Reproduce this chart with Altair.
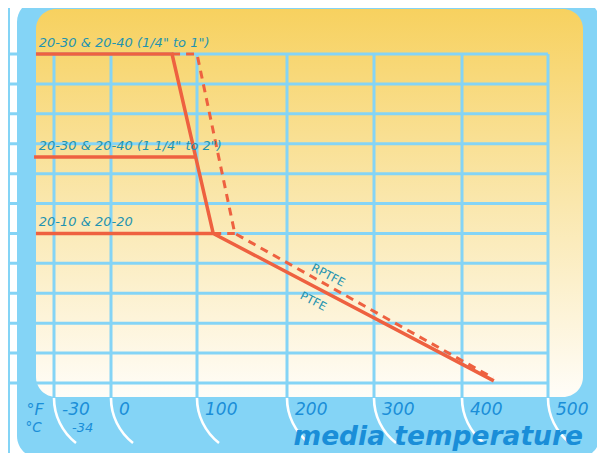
import altair as alt
import pandas as pd

# ---------------- data ----------------
ticks_f = [-30, 0, 100, 200, 300, 400, 500]
tick_labels = ["-30", "0", "100", "200", "300", "400", "500"]
grid_levels = list(range(12))          # horizontal grid levels (relative pressure)

# solid curves (PTFE seats): media temperature in °F, relative pressure level
s1_f = [-39.5, 71, 118]
s1_p = [11, 11, 5]
s2_f = [-40.5, 98]
s2_p = [7.56, 7.56]
s3_f = [-39.5, 118, 437]
s3_p = [5, 5, 0.07]
# dashed curves (RPTFE seats)
r1_f = [71, 100, 142, 436]
r1_p = [11, 11, 5, 0.17]
r2_f = [118, 142]
r2_p = [5, 5]

series_labels = ['20-30 & 20-40 (1/4" to 1")', '20-30 & 20-40 (1 1/4" to 2")', "20-10 & 20-20"]
series_label_f = [-38, -38, -38]
series_label_p = [11, 7.56, 5]

seat_labels = ["RPTFE", "PTFE"]
seat_label_f = [247, 230]
seat_label_p = [3.58, 2.71]

# ---------------- styles ----------------
BLUE = "#84d4f6"
LINE = "#ee6140"
TEAL = "#1f93b0"
AXBLUE = "#1a8ed8"
FONT = "DejaVu Sans"

xs = alt.Scale(domain=ticks_f, range=[46, 103, 189, 279, 366, 454, 540], nice=False, zero=False)
ys = alt.Scale(domain=[0, 11], range=[375, 46], nice=False, zero=False)
X = lambda f: alt.X(f, scale=xs, axis=None)
Y = lambda f: alt.Y(f, scale=ys, axis=None)

one = pd.DataFrame({"a": [0]})

bg = alt.Chart(one).mark_rect(fill=BLUE, cornerRadius=22).encode(
    x=alt.value(9), x2=alt.value(592), y=alt.value(-8), y2=alt.value(450)
)
left_rule = alt.Chart(one).mark_rule(color=BLUE, strokeWidth=2).encode(
    x=alt.value(1), y=alt.value(0), y2=alt.value(460)
)
panel = alt.Chart(one).mark_rect(
    cornerRadius=20,
    fill=alt.Gradient(
        gradient="linear",
        stops=[alt.GradientStop(color="#f7d15f", offset=0),
               alt.GradientStop(color="#fae7ad", offset=0.5),
               alt.GradientStop(color="#fffdf8", offset=1)],
        x1=0, x2=0, y1=0, y2=1,
    ),
).encode(x=alt.value(28), x2=alt.value(575), y=alt.value(1), y2=alt.value(389))

hgrid_df = pd.DataFrame({"p": grid_levels, "f0": [-60] * len(grid_levels), "f1": [500] * len(grid_levels)})
hgrid = alt.Chart(hgrid_df).mark_rule(color=BLUE, strokeWidth=3).encode(
    x=X("f0:Q"), x2="f1:Q", y=Y("p:Q"),
)
vgrid_df = pd.DataFrame({"f": ticks_f, "p0": [11] * len(ticks_f), "p1": [-0.47] * len(ticks_f)})
vgrid = alt.Chart(vgrid_df).mark_rule(color=BLUE, strokeWidth=3).encode(
    x=X("f:Q"), y=Y("p0:Q"), y2="p1:Q",
)

tick_df = pd.DataFrame({"f": ticks_f, "label": tick_labels})
# white hook under each tick: custom symbol path (unit coords scaled by sqrt(size)/2 = 25px)
HOOK = "M0,0 A2.28,2.28 0 0 0 0.88,1.8"
hooks = alt.Chart(tick_df).mark_point(
    shape=HOOK, size=2500, filled=False, stroke="white", strokeWidth=2.6, opacity=1
).encode(x=X("f:Q"), y=alt.value(390))

tick_text = alt.Chart(tick_df).mark_text(
    font=FONT, fontSize=17, fontStyle="italic", color=AXBLUE, align="left", dx=8, baseline="alphabetic"
).encode(x=X("f:Q"), y=alt.value(407), text="label:N")

unit_f = alt.Chart(pd.DataFrame({"f": [-44.5], "t": ["°F"]})).mark_text(
    font=FONT, fontSize=16, fontStyle="italic", color=AXBLUE, align="left", baseline="alphabetic"
).encode(x=X("f:Q"), y=alt.value(407), text="t:N")
unit_c = alt.Chart(pd.DataFrame({"f": [-45], "t": ["°C"]})).mark_text(
    font=FONT, fontSize=13.5, fontStyle="italic", color=AXBLUE, align="left", baseline="alphabetic"
).encode(x=X("f:Q"), y=alt.value(424), text="t:N")
unit_34 = alt.Chart(pd.DataFrame({"f": [-30], "t": ["-34"]})).mark_text(
    font=FONT, fontSize=13, fontStyle="italic", color=AXBLUE, align="left", baseline="alphabetic", dx=18
).encode(x=X("f:Q"), y=alt.value(424), text="t:N")

title = alt.Chart(one).mark_text(
    text="media temperature", font=FONT, fontSize=26.5, fontStyle="italic", fontWeight="bold",
    color=AXBLUE, align="right", baseline="alphabetic"
).encode(x=alt.value(575), y=alt.value(437))

def mk(name, fs, ps):
    return pd.DataFrame({"series": name, "i": range(len(fs)), "f": fs, "p": ps})

solid_df = pd.concat([mk("s1", s1_f, s1_p), mk("s2", s2_f, s2_p), mk("s3", s3_f, s3_p)])
dash_df = pd.concat([mk("r1", r1_f, r1_p), mk("r2", r2_f, r2_p)])

dashed = alt.Chart(dash_df).mark_line(color=LINE, strokeWidth=3, strokeDash=[8, 6], strokeJoin="miter").encode(
    x=X("f:Q"), y=Y("p:Q"), detail="series:N", order="i:Q",
)
solid = alt.Chart(solid_df).mark_line(color=LINE, strokeWidth=3.5, strokeJoin="miter").encode(
    x=X("f:Q"), y=Y("p:Q"), detail="series:N", order="i:Q",
)

lab_df = pd.DataFrame({"t": series_labels, "f": series_label_f, "p": series_label_p})
labels = alt.Chart(lab_df).mark_text(
    font=FONT, fontSize=13, fontStyle="italic", color=TEAL, align="left", baseline="alphabetic", dy=-7
).encode(x=X("f:Q"), y=Y("p:Q"), text="t:N")

seat_df = pd.DataFrame({"t": seat_labels, "f": seat_label_f, "p": seat_label_p})
seats = alt.Chart(seat_df).mark_text(
    font=FONT, fontSize=11.5, color=TEAL, align="center", baseline="middle", angle=27.5
).encode(x=X("f:Q"), y=Y("p:Q"), text="t:N")

chart = alt.layer(
    bg, left_rule, panel, hgrid, vgrid, hooks, dashed, solid, labels, seats,
    tick_text, unit_f, unit_c, unit_34, title
).properties(
    width=589, height=445, padding=0, background="white",
    autosize=alt.AutoSizeParams(type="none"),
).configure_view(stroke=None)

chart.save("out.html", embed_options={"renderer": "svg", "actions": False})
